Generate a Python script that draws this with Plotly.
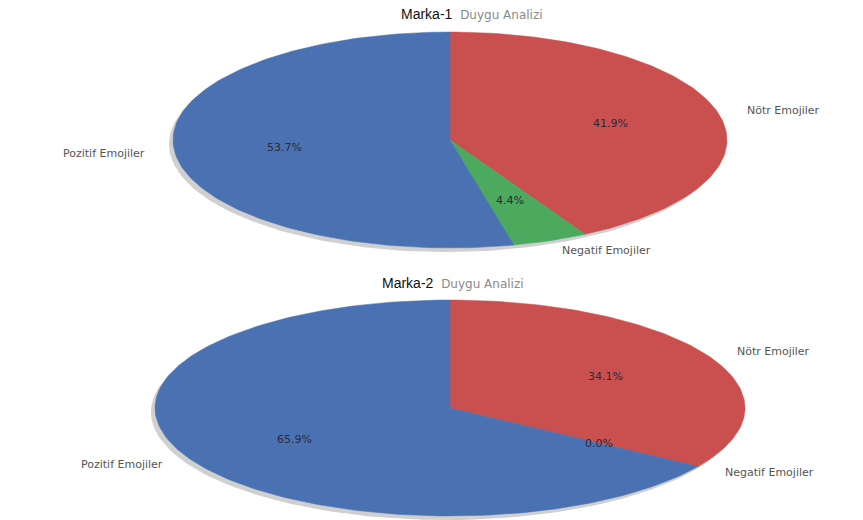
import numpy as np
import plotly.graph_objects as go

categories = ["Nötr Emojiler", "Negatif Emojiler", "Pozitif Emojiler"]
marka1_values = [41.9, 4.4, 53.7]
marka2_values = [34.1, 0.0, 65.9]
titles = ["Marka-1", "Marka-2"]
subtitle = "Duygu Analizi"

colors = ["#C9504F", "#4BAA5E", "#4A72B2"]

# layout geometry (pixel space)
W, H = 863, 520
pies = [
    dict(values=marka1_values, cx=450, cy=140, a=277, b=108, title_y=14, title_x=472),
    dict(values=marka2_values, cx=450, cy=408, a=295, b=108, title_y=283, title_x=453),
]

fig = go.Figure()

def pt(p, frac, k=1.0):
    t = 2 * np.pi * frac
    return p["cx"] + p["a"] * k * np.sin(t), p["cy"] - p["b"] * k * np.cos(t)

for p in pies:
    # shadow
    tt = np.linspace(0, 2 * np.pi, 200)
    fig.add_trace(go.Scatter(
        x=p["cx"] - 4 + p["a"] * np.sin(tt), y=p["cy"] + 4 - p["b"] * np.cos(tt),
        mode="lines", fill="toself", fillcolor="rgba(150,150,150,0.45)",
        line=dict(width=0), hoverinfo="skip", showlegend=False))
    vals = np.array(p["values"], dtype=float)
    fr = vals / vals.sum()
    start = np.concatenate([[0], np.cumsum(fr)[:-1]])
    for i, (s, f) in enumerate(zip(start, fr)):
        if f <= 0:
            continue
        ts = np.linspace(s, s + f, max(4, int(f * 300)))
        xs, ys = pt(p, ts)
        xs = np.concatenate([[p["cx"]], xs, [p["cx"]]])
        ys = np.concatenate([[p["cy"]], ys, [p["cy"]]])
        fig.add_trace(go.Scatter(x=xs, y=ys, mode="lines", fill="toself",
                                 fillcolor=colors[i], line=dict(width=0.5, color=colors[i]),
                                 hoverinfo="skip", showlegend=False))
    # labels
    for i, (s, f) in enumerate(zip(start, fr)):
        mid = s + f / 2
        xi, yi = pt(p, mid, 0.6)
        fig.add_annotation(x=xi, y=yi, text=f"{vals[i]:.1f}%", showarrow=False,
                           font=dict(family="DejaVu Sans", size=11, color="#2a2a3a"))
        xo, yo = pt(p, mid, 1.1)
        right = np.sin(2 * np.pi * mid) >= 0
        fig.add_annotation(x=xo, y=yo, text=categories[i], showarrow=False,
                           xanchor="left" if right else "right",
                           font=dict(family="DejaVu Sans", size=11, color="#555555"))

for p, t in zip(pies, titles):
    fig.add_annotation(x=p["title_x"], y=p["title_y"], showarrow=False,
                       text=f"{t}  <span style='color:#8a8a8a;font-size:12px;font-family:DejaVu Sans'>{subtitle}</span>",
                       font=dict(family="Liberation Sans", size=14, color="#111111"))

fig.update_layout(
    width=W, height=H, margin=dict(l=0, r=0, t=0, b=0),
    paper_bgcolor="white", plot_bgcolor="white",
    xaxis=dict(range=[0, W], visible=False, fixedrange=True),
    yaxis=dict(range=[H, 0], visible=False, fixedrange=True),
    showlegend=False,
)

fig.write_html("out.html")
